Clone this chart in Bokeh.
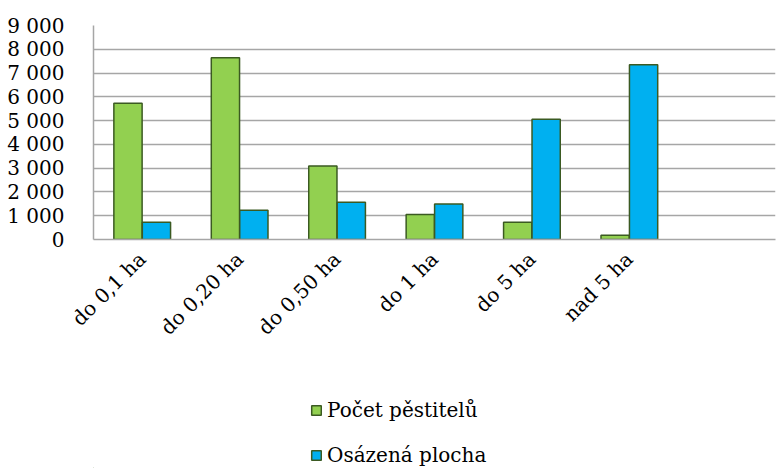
import math
from bokeh.plotting import figure
from bokeh.layouts import column
from bokeh.models import ColumnDataSource, FactorRange, Range1d, FixedTicker, Legend, LegendItem
from bokeh.transform import dodge
from bokeh.embed import file_html
from bokeh.resources import INLINE

categories = ["do 0,1 ha", "do 0,20 ha", "do 0,50 ha", "do 1 ha", "do 5 ha", "nad 5 ha"]
extra_slot = [" "]
pestitelu = [5730, 7640, 3090, 1050, 730, 180]
plocha = [725, 1230, 1565, 1495, 5060, 7350]
series_names = ["Počet pěstitelů", "Osázená plocha"]
y_ticks = [0, 1000, 2000, 3000, 4000, 5000, 6000, 7000, 8000, 9000]
y_tick_labels = ["0", "1 000", "2 000", "3 000", "4 000", "5 000", "6 000", "7 000", "8 000", "9 000"]

FONT = "DejaVu Serif"
FSIZE = "20px"
GREEN = "#92d050"
BLUE = "#00b0f0"
EDGE = "#3b5a22"
GRID = "#a6a6a6"

src = ColumnDataSource(dict(cat=categories, a=pestitelu, b=plocha))

p = figure(width=777, height=368, output_backend="svg", toolbar_location=None,
           x_range=FactorRange(*(categories + extra_slot), range_padding=0),
           y_range=Range1d(0, 9000),
           min_border_left=93, min_border_top=25, min_border_right=2, min_border_bottom=129)

r1 = p.vbar(x=dodge("cat", -0.146, range=p.x_range), top="a", width=0.29, source=src,
            fill_color=GREEN, line_color=EDGE, line_width=1.5)
r2 = p.vbar(x=dodge("cat", 0.146, range=p.x_range), top="b", width=0.29, source=src,
            fill_color=BLUE, line_color=EDGE, line_width=1.5)

p.outline_line_color = None
p.xgrid.grid_line_color = None
p.ygrid.grid_line_color = GRID
p.ygrid.grid_line_width = 1.5

p.yaxis.ticker = FixedTicker(ticks=y_ticks)
p.yaxis.major_label_overrides = {t: l for t, l in zip(y_ticks, y_tick_labels)}
p.yaxis.axis_line_color = GRID
p.yaxis.axis_line_width = 1.5
p.yaxis.major_tick_line_color = None
p.yaxis.minor_tick_line_color = None
p.yaxis.major_label_text_font = FONT
p.yaxis.major_label_text_font_size = FSIZE
p.yaxis.major_label_text_color = "black"
p.yaxis.major_label_standoff = 23

p.xaxis.axis_line_color = GRID
p.xaxis.axis_line_width = 1.5
p.xaxis.major_tick_line_color = None
p.xaxis.minor_tick_line_color = None
p.xaxis.major_label_orientation = math.pi / 4
p.xaxis.major_label_text_font = FONT
p.xaxis.major_label_text_font_size = FSIZE
p.xaxis.major_label_text_color = "black"
p.xaxis.major_label_standoff = 10

# legend panel below the chart (swatch renderers lie outside the visible range)
p2 = figure(width=777, height=100, output_backend="svg", toolbar_location=None,
            x_axis_type=None, y_axis_type=None, x_range=Range1d(0, 1), y_range=Range1d(0, 1),
            min_border=0, outline_line_color=None)
p2.xgrid.grid_line_color = None
p2.ygrid.grid_line_color = None
l1 = p2.vbar(x=[-5], top=[-5], bottom=[-6], width=0.1, fill_color=GREEN, line_color=EDGE, line_width=1.5)
l2 = p2.vbar(x=[-5], top=[-5], bottom=[-6], width=0.1, fill_color=BLUE, line_color=EDGE, line_width=1.5)
legend = Legend(items=[LegendItem(label=series_names[0], renderers=[l1]),
                       LegendItem(label=series_names[1], renderers=[l2])],
                orientation="vertical", location=(217, 0),
                label_text_font=FONT, label_text_font_size=FSIZE, label_text_color="black",
                label_height=26, glyph_width=12, glyph_height=12, spacing=19, padding=0, margin=0,
                label_standoff=5, border_line_color=None, background_fill_alpha=0)
p2.add_layout(legend, "center")

open("out.html", "w").write(file_html(column(p, p2, spacing=0), INLINE))
